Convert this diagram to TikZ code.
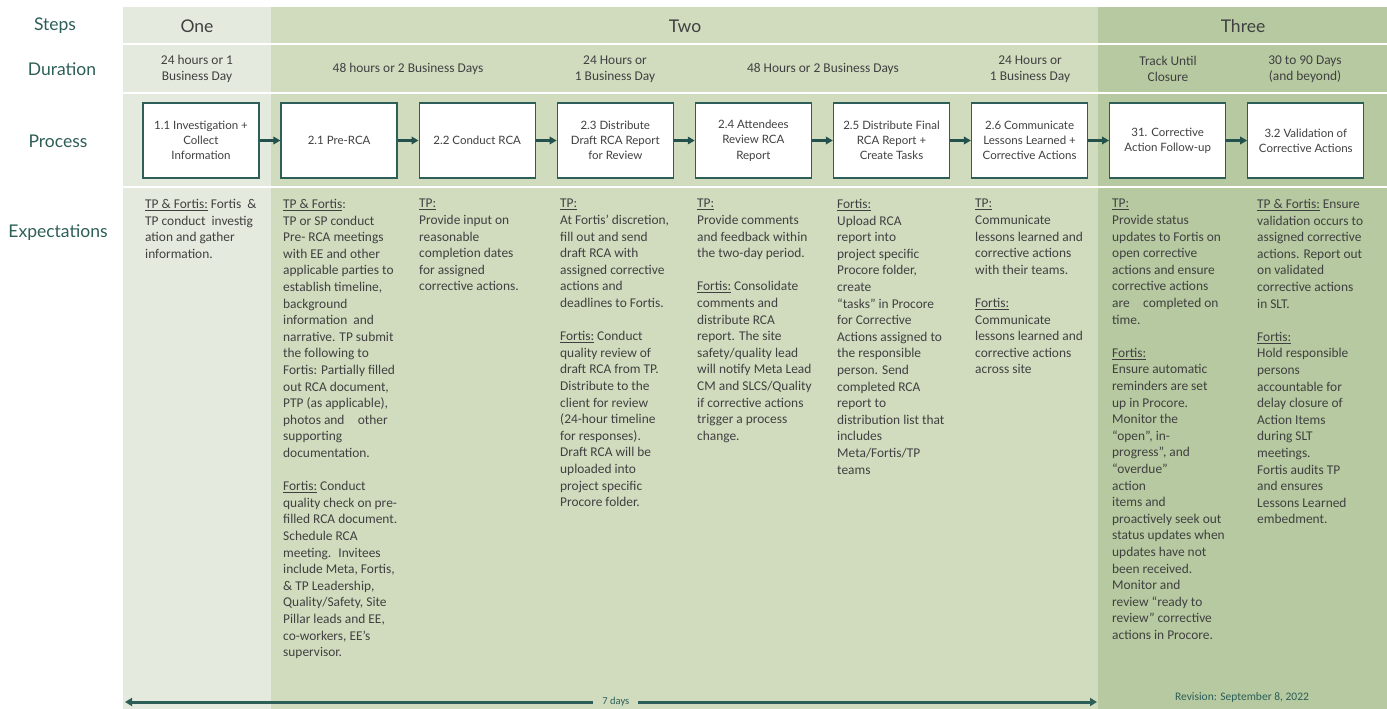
\documentclass[tikz,border=0pt]{standalone}
\usepackage{fontspec}
\setmainfont{Carlito}
\newfontfamily\headfont{Lato}
\usetikzlibrary{positioning, arrows.meta}

\definecolor{stepone}{HTML}{E5EADF}
\definecolor{steptwo}{HTML}{D1DCBF}
\definecolor{stepthree}{HTML}{B6C9A0}
\definecolor{rcateal}{HTML}{2D5E57}
\definecolor{rcadark}{HTML}{24514B}
\definecolor{bodygray}{HTML}{404040}

\newcommand{\who}[1]{\underline{#1}}

\begin{document}
\begin{tikzpicture}[x=1pt, y=-1pt,
		rowlabel/.style={text=rcateal, font=\headfont\fontsize{17.5}{20}\selectfont},
		stephead/.style={text=bodygray, font=\headfont\fontsize{17.5}{20}\selectfont},
		duration/.style={text=bodygray, align=center, font=\fontsize{13.4}{15.7}\selectfont},
		procbox/.style={draw=rcateal, line width=1.3pt, fill=white, minimum width=116pt,
			minimum height=75pt, align=center, text=bodygray,
			font=\headfont\fontsize{11.5}{15.3}\selectfont},
		flow/.style={-{Triangle[length=7pt,width=7.5pt]}, draw=rcadark, line width=2.4pt},
		expect/.style={anchor=north west, inner sep=0pt, align=left, text=bodygray,
			font=\fontsize{13.4}{16.6}\selectfont},
		sep/.style={draw=white, line width=1.5pt}]
	\useasboundingbox (0,0) rectangle (1387,709);

	% the three step panels
	\fill[stepone] (123,7) rectangle (271,709);
	\fill[steptwo] (271,7) rectangle (1098,709);
	\fill[stepthree] (1098,7) rectangle (1387,709);
	\foreach \y in {44,93,187}
		\draw[sep] (123,\y) -- (1387,\y);

	% row labels
	\node[rowlabel] (steps) at (55,26) {Steps};
	\node[rowlabel] (duration) at (62,69) {Duration};
	\node[rowlabel] (process) at (58,141) {Process};
	\node[rowlabel] (expectations) at (58,233) {Expectations};

	% steps
	\node[stephead] (one) at (197,26) {One};
	\node[stephead] (two) at (685,26) {Two};
	\node[stephead] (three) at (1243,26) {Three};

	% durations
	\node[duration] (d1) at (197,69) {24 hours or 1\\Business Day};
	\node[duration] (d2) at (408,69) {48 hours or 2 Business Days};
	\node[duration] (d3) at (615,69) {24 Hours or\\1 Business Day};
	\node[duration] (d4) at (823,69) {48 Hours or 2 Business Days};
	\node[duration] (d5) at (1030,69) {24 Hours or\\1 Business Day};
	\node[duration] (d6) at (1168,69) {Track Until\\Closure};
	\node[duration] (d7) at (1305,69) {30 to 90 Days\\(and beyond)};

	% process
	\node[procbox] (p11) at (201,140.5) {1.1 Investigation +\\Collect\\Information};
	\node[procbox, right=20.8pt of p11] (p21) {2.1 Pre-RCA};
	\node[procbox, right=20.8pt of p21] (p22) {2.2 Conduct RCA};
	\node[procbox, right=20.8pt of p22] (p23) {2.3 Distribute\\Draft RCA Report\\for Review};
	\node[procbox, right=20.8pt of p23] (p24) {2.4 Attendees\\Review RCA\\Report};
	\node[procbox, right=20.8pt of p24] (p25) {2.5 Distribute Final\\RCA Report +\\Create Tasks};
	\node[procbox, right=20.8pt of p25] (p26) {2.6 Communicate\\Lessons Learned +\\Corrective Actions};
	\node[procbox, right=20.8pt of p26] (p31) {31. Corrective\\Action Follow-up};
	\node[procbox, right=20.8pt of p31] (p32) {3.2 Validation of\\Corrective Actions};
	\foreach \a/\b in {p11/p21, p21/p22, p22/p23, p23/p24, p24/p25, p25/p26, p26/p31, p31/p32}
		\draw[flow] (\a) -- (\b);

	% expectations
	\node[expect] (e11) at (145,199) {\who{TP \& Fortis:} Fortis~ \&\\TP conduct~ investig\\ation and gather\\information.};
	\node[expect] (e21) at (283,199) {\who{TP \& Fortis}:\\TP or SP conduct\\Pre- RCA meetings\\with EE and other\\applicable parties to\\establish timeline,\\background\\information~ and\\narrative. TP submit\\the following to\\Fortis: Partially filled\\out RCA document,\\PTP (as applicable),\\photos and\quad other\\supporting\\documentation.\\[16.6pt]
		\who{Fortis:} Conduct\\quality check on pre-\\filled RCA document.\\Schedule RCA\\meeting.~ Invitees\\include Meta, Fortis,\\\& TP Leadership,\\Quality/Safety, Site\\Pillar leads and EE,\\co-workers, EE’s\\supervisor.};
	\node[expect] (e22) at (419,199) {\who{TP:}\\Provide input on\\reasonable\\completion dates\\for assigned\\corrective actions.};
	\node[expect] (e23) at (560,199) {\who{TP:}\\At Fortis’ discretion,\\fill out and send\\draft RCA with\\assigned corrective\\actions and\\deadlines to Fortis.\\[16.6pt]
		\who{Fortis:} Conduct\\quality review of\\draft RCA from TP.\\Distribute to the\\client for review\\(24-hour timeline\\for responses).\\Draft RCA will be\\uploaded into\\project specific\\Procore folder.};
	\node[expect] (e24) at (697,199) {\who{TP:}\\Provide comments\\and feedback within\\the two-day period.\\[16.6pt]
		\who{Fortis:} Consolidate\\comments and\\distribute RCA\\report. The site\\safety/quality lead\\will notify Meta Lead\\CM and SLCS/Quality\\if corrective actions\\trigger a process\\change.};
	\node[expect] (e25) at (837,199) {\who{Fortis:}\\Upload RCA\\report into\\project specific\\Procore folder,\\create\\“tasks” in Procore\\for Corrective\\Actions assigned to\\the responsible\\person. Send\\completed RCA\\report to\\distribution list that\\includes\\Meta/Fortis/TP\\teams};
	\node[expect] (e26) at (975,199) {\who{TP:}\\Communicate\\lessons learned and\\corrective actions\\with their teams.\\[16.6pt]
		\who{Fortis:}\\Communicate\\lessons learned and\\corrective actions\\across site};
	\node[expect] (e31) at (1112,199) {\who{TP:}\\Provide status\\updates to Fortis on\\open corrective\\actions and ensure\\corrective actions\\are\quad completed on\\time.\\[16.6pt]
		\who{Fortis:}\\Ensure automatic\\reminders are set\\up in Procore.\\Monitor the\\“open”, in-\\progress”, and\\“overdue”\\action\\items and\\proactively seek out\\status updates when\\updates have not\\been received.\\Monitor and\\review “ready to\\review” corrective\\actions in Procore.};
	\node[expect] (e32) at (1257,199) {\who{TP \& Fortis:} Ensure\\validation occurs to\\assigned corrective\\actions. Report out\\on validated\\corrective actions\\in SLT.\\[16.6pt]
		\who{Fortis:}\\Hold responsible\\persons\\accountable for\\delay closure of\\Action Items\\during SLT\\meetings.\\Fortis audits TP\\and ensures\\Lessons Learned\\embedment.};

	% time line
	\coordinate (daysl) at (125,702);
	\coordinate (daysr) at (1097,702);
	\draw[{Triangle[length=7pt,width=8pt]}-{Triangle[length=7pt,width=8pt]}, draw=rcateal,
		line width=3pt] (daysl) -- (daysr)
		node[pos=0.505, fill=steptwo, inner xsep=9pt, inner ysep=1pt, text=rcateal,
			font=\fontsize{10.5}{12}\selectfont] (days) {7 days};
	\node[text=rcateal, font=\fontsize{11.5}{13}\selectfont] (revision) at (1242,697)
		{Revision: September 8, 2022};
\end{tikzpicture}
\end{document}
